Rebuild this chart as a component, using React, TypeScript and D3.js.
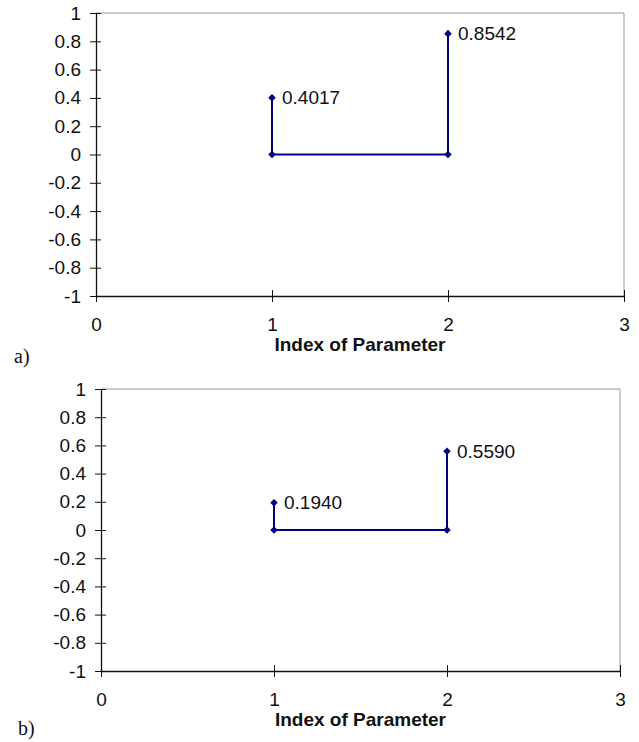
import React, { useEffect, useRef } from 'react'
import * as d3 from 'd3'

// parameter indices and the two runs
const paramIndex = [1, 2]
const valuesA = [0.4017, 0.8542]
const valuesB = [0.194, 0.559]
const panelNames = ['a)', 'b)']
const yTicks = [1, 0.8, 0.6, 0.4, 0.2, 0, -0.2, -0.4, -0.6, -0.8, -1]
const xTicks = [0, 1, 2, 3]
const xTitle = 'Index of Parameter'

const W = 639
const H = 742
const SANS = 'Arial, "Liberation Sans", sans-serif'

export default function App() {
  const ref = useRef<SVGSVGElement>(null)

  useEffect(() => {
    const svg = d3.select(ref.current)
    svg.selectAll('*').remove()

    const panels = [
      { vals: valuesA, name: panelNames[0], left: 96, right: 624, top: 13, bottom: 296, nameX: 14, nameY: 363 },
      { vals: valuesB, name: panelNames[1], left: 101, right: 620, top: 389, bottom: 671, nameX: 18, nameY: 735 },
    ]

    panels.forEach(p => {
      const g = svg.append('g')
      const x = d3.scaleLinear().domain([0, 3]).range([p.left, p.right])
      const y = d3.scaleLinear().domain([-1, 1]).range([p.bottom, p.top])

      // plot frame (top & right in grey)
      g.append('path')
        .attr('d', `M${p.left},${p.top}H${p.right}V${p.bottom}`)
        .attr('fill', 'none')
        .attr('stroke', '#9a9a9a')
        .attr('stroke-width', 1)

      // y axis
      const yAxis = g.append('g')
        .attr('transform', `translate(${p.left},0)`)
        .call(d3.axisLeft(y).tickValues(yTicks).tickSize(0).tickPadding(15).tickFormat(d => String(d)))
      yAxis.select('.domain').attr('stroke', '#111').attr('stroke-width', 1.3)
      yAxis.selectAll('.tick text').attr('font-family', SANS).attr('font-size', 19).attr('fill', '#111')
      yAxis.selectAll('.tick').append('line').attr('x1', -6).attr('x2', 5).attr('stroke', '#111').attr('stroke-width', 1)

      // x axis at y = -1
      const xAxis = g.append('g')
        .attr('transform', `translate(0,${p.bottom})`)
        .call(d3.axisBottom(x).tickValues(xTicks).tickSize(0).tickPadding(22).tickFormat(d => String(d)))
      xAxis.select('.domain').attr('stroke', '#111').attr('stroke-width', 1.3)
      xAxis.selectAll('.tick text').attr('font-family', SANS).attr('font-size', 19).attr('fill', '#111')
      xAxis.selectAll('.tick').append('line').attr('y1', -6).attr('y2', 6).attr('stroke', '#111').attr('stroke-width', 1)

      g.append('text')
        .attr('x', (p.left + p.right) / 2)
        .attr('y', p.bottom + 55)
        .attr('text-anchor', 'middle')
        .attr('font-family', SANS)
        .attr('font-weight', 'bold')
        .attr('font-size', 19)
        .attr('fill', '#111')
        .text(xTitle)

      g.append('text')
        .attr('x', p.nameX)
        .attr('y', p.nameY)
        .attr('font-family', '"Liberation Serif", "Times New Roman", serif')
        .attr('font-size', 20)
        .attr('fill', '#111')
        .text(p.name)

      // step series: value -> 0 -> 0 -> value
      const pts: [number, number][] = [
        [paramIndex[0], p.vals[0]],
        [paramIndex[0], 0],
        [paramIndex[1], 0],
        [paramIndex[1], p.vals[1]],
      ]
      const line = d3.line<[number, number]>().x(d => x(d[0])).y(d => y(d[1]))
      g.append('path')
        .attr('d', line(pts))
        .attr('fill', 'none')
        .attr('stroke', '#000080')
        .attr('stroke-width', 2)

      const diamond = d3.symbol().type(d3.symbolDiamond2).size(36)
      g.selectAll('.pt')
        .data(pts)
        .enter()
        .append('path')
        .attr('d', diamond)
        .attr('transform', d => `translate(${x(d[0])},${y(d[1])})`)
        .attr('fill', '#000080')

      g.selectAll('.lbl')
        .data(paramIndex.map((k, i) => [k, p.vals[i]] as [number, number]))
        .enter()
        .append('text')
        .attr('x', d => x(d[0]) + 10)
        .attr('y', d => y(d[1]))
        .attr('dy', '0.36em')
        .attr('font-family', SANS)
        .attr('font-size', 19)
        .attr('fill', '#111')
        .text(d => d3.format('.4f')(d[1]))
    })
  }, [])

  return (
    <svg ref={ref} width={W} height={H}
      style={{ position: 'absolute', left: 0, top: 0, background: '#fff' }} />
  )
}
